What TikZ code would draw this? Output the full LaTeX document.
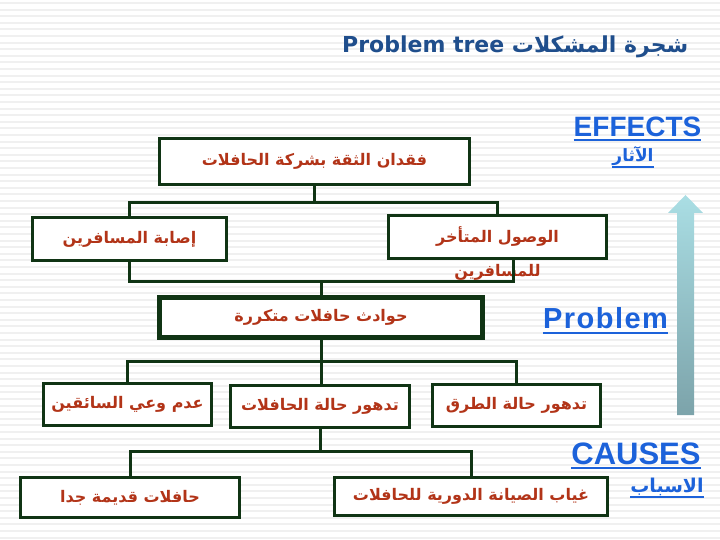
\documentclass[tikz,border=0pt]{standalone}
\usepackage{fontspec}
\setmainfont{DejaVu Sans}
\newfontfamily\arabicfont[Script=Arabic]{DejaVu Sans}
\newfontfamily\headfont{Liberation Sans}
\TeXXeTstate=1
\definecolor{boxline}{RGB}{16,52,20}
\definecolor{redtext}{RGB}{178,52,24}
\definecolor{headblue}{RGB}{28,98,218}
\definecolor{titleblue}{RGB}{31,78,140}
\definecolor{arrowtop}{RGB}{170,222,228}
\definecolor{arrowbot}{RGB}{124,163,170}

\begin{document}
\begin{tikzpicture}[x=1pt, y=-1pt,
  % Boxes of the tree: dark green border, red text
  treebox/.style={draw=boxline, line width=3pt, fill=white, minimum height=42pt,
                  align=center, text=redtext, inner sep=2pt,
                  font=\arabicfont\bfseries\fontsize{16}{19}\selectfont},
  % The core problem: thicker border
  corebox/.style={treebox, line width=5pt},
  link/.style={draw=boxline, line width=3pt},
  % Blue headings on the right
  heading/.style={text=headblue, inner sep=0pt,
                  font=\headfont\bfseries\fontsize{28}{30}\selectfont},
  subhead/.style={text=headblue, inner sep=0pt,
                  font=\arabicfont\bfseries\fontsize{17}{20}\selectfont},
  uline/.style={draw=headblue, line width=2.5pt},
  stripe/.style={draw=black!6, line width=2pt}
]
  \useasboundingbox (0,0) rectangle (720,540);

  % Striped background
  \foreach \y in {3,9.6,...,540}
    \draw[stripe] (0,\y) -- (720,\y);

  % Title
  \node[anchor=base west, text=titleblue, inner sep=0pt,
        font=\bfseries\fontsize{22}{26}\selectfont] (title) at (342,53)
    {Problem tree {\arabicfont\beginR شجرة المشكلات\endR}};

  % Effects
  \node[treebox, minimum width=310pt, minimum height=46pt] (loss) at (314.5,161.5)
    {\beginR فقدان الثقة بشركة الحافلات\endR};
  \node[treebox, minimum width=194pt] (injury) at (129.5,239)
    {\beginR إصابة المسافرين\endR};
  \node[treebox, minimum width=218pt,
        label={[text=redtext, font=\arabicfont\bfseries\fontsize{16}{19}\selectfont,
                label distance=1pt]below:{\beginR للمسافرين\endR}}] (late) at (497.5,237)
    {\beginR الوصول المتأخر\endR};

  % Core problem
  \node[corebox, minimum width=323pt, minimum height=40pt] (accidents) at (321,317.5)
    {\beginR حوادث حافلات متكررة\endR};

  % Causes, first row
  \node[treebox, minimum width=168pt] (drivers) at (127.5,404)
    {\beginR عدم وعي السائقين\endR};
  \node[treebox, minimum width=179pt] (buses) at (320,406.5)
    {\beginR تدهور حالة الحافلات\endR};
  \node[treebox, minimum width=168pt] (roads) at (516.5,405)
    {\beginR تدهور حالة الطرق\endR};

  % Causes, second row
  \node[treebox, minimum width=219pt, minimum height=40pt] (old) at (130,497.5)
    {\beginR حافلات قديمة جدا\endR};
  \node[treebox, minimum width=273pt, minimum height=38pt] (maint) at (471,496.5)
    {\beginR غياب الصيانة الدورية للحافلات\endR};

  % Connectors
  \draw[link] (loss.south) -- ++(0,17);
  \draw[link] (injury.north) -- ++(0,-14) -| (late.north);
  \draw[link] (injury.south) -- ++(0,20) -| ([xshift=16pt]late.south);
  \draw[link] (accidents.north) -- ++(0,-15);
  \draw[link] (accidents.south) -- ++(0,21) coordinate (split);
  \draw[link] (drivers.north) |- (split) -| (roads.north);
  \draw[link] (split) -- (split |- buses.north);
  \draw[link] (buses.south) -- ++(0,22) coordinate (split2);
  \draw[link] (old.north) |- (split2) -| (maint.north);

  % Side labels
  \node[heading] (effects) at (637.5,127) {EFFECTS};
  \draw[uline] ([yshift=-3pt]effects.south west) -- ([yshift=-3pt]effects.south east);
  \node[subhead] (effects-ar) at (633,156) {\beginR الآثار\endR};
  \draw[uline, line width=2pt] ([yshift=-1pt]effects-ar.south west) -- ([yshift=-1pt]effects-ar.south east);

  \shade[top color=arrowtop, bottom color=arrowbot] (677,415) -- (677,213) -- (668,213)
    -- (685.5,195) -- (703,213) -- (694,213) -- (694,415) -- cycle;

  \node[heading, font=\headfont\bfseries\fontsize{29}{32}\selectfont\addfontfeature{LetterSpace=5}]
    (problem) at (605.5,318) {Problem};
  \draw[uline] ([yshift=-4pt]problem.south west) -- ([yshift=-4pt]problem.south east);

  \node[heading, font=\headfont\bfseries\fontsize{31}{34}\selectfont] (causes) at (636,454) {CAUSES};
  \draw[uline] ([yshift=-3pt]causes.south west) -- ([yshift=-3pt]causes.south east);
  \node[subhead, font=\arabicfont\bfseries\fontsize{19}{22}\selectfont] (causes-ar) at (667,487)
    {\beginR الاسباب\endR};
  \draw[uline, line width=2pt] ([yshift=-1pt]causes-ar.south west) -- ([yshift=-1pt]causes-ar.south east);

\end{tikzpicture}
\end{document}
